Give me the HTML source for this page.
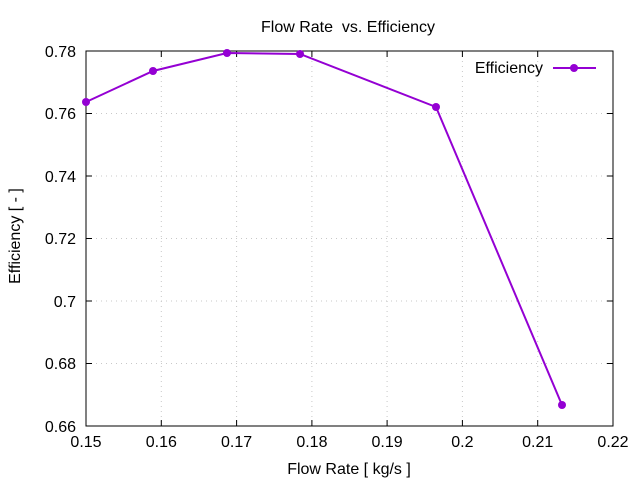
<!DOCTYPE html>
<html><head><meta charset="utf-8"><style>body{margin:0;background:#fff}svg{display:block}</style></head>
<body>
<svg width="640" height="480" xmlns="http://www.w3.org/2000/svg" font-family="Liberation Sans, sans-serif" font-size="16">
<rect width="640" height="480" fill="#fff"/>
<g stroke="#c8c8c8" stroke-width="1" stroke-dasharray="1,4">
<line x1="161.3" y1="51" x2="161.3" y2="426"/><line x1="236.6" y1="51" x2="236.6" y2="426"/><line x1="311.9" y1="51" x2="311.9" y2="426"/><line x1="387.1" y1="51" x2="387.1" y2="426"/><line x1="462.4" y1="51" x2="462.4" y2="426"/><line x1="537.7" y1="51" x2="537.7" y2="426"/>
<line x1="86" y1="113.5" x2="613" y2="113.5"/><line x1="86" y1="176" x2="613" y2="176"/><line x1="86" y1="238.5" x2="613" y2="238.5"/><line x1="86" y1="301" x2="613" y2="301"/><line x1="86" y1="363.5" x2="613" y2="363.5"/>
</g>
<g stroke="#000" stroke-width="1">
<rect x="86" y="51" width="527" height="375" fill="none"/>
<path d="M86 113.5h6M86 176h6M86 238.5h6M86 301h6M86 363.5h6M613 113.5h-6M613 176h-6M613 238.5h-6M613 301h-6M613 363.5h-6M161.3 426v-6M236.6 426v-6M311.9 426v-6M387.1 426v-6M462.4 426v-6M537.7 426v-6M161.3 51v6M236.6 51v6M311.9 51v6M387.1 51v6M462.4 51v6M537.7 51v6"/>
</g>
<g text-anchor="end">
<text x="76" y="57">0.78</text><text x="76" y="119">0.76</text><text x="76" y="182">0.74</text><text x="76" y="244">0.72</text><text x="76" y="307">0.7</text><text x="76" y="369">0.68</text><text x="76" y="432">0.66</text>
</g>
<g text-anchor="middle">
<text x="86" y="447">0.15</text><text x="161.3" y="447">0.16</text><text x="236.6" y="447">0.17</text><text x="311.9" y="447">0.18</text><text x="387.1" y="447">0.19</text><text x="462.4" y="447">0.2</text><text x="537.7" y="447">0.21</text><text x="613" y="447">0.22</text>
</g>
<g text-anchor="middle">
<text x="348" y="32" xml:space="preserve" style="white-space:pre">Flow Rate  vs. Efficiency</text>
<text x="349" y="474">Flow Rate [ kg/s ]</text>
<text transform="translate(20,236) rotate(-90)">Efficiency [ - ]</text>
</g>
<text x="543" y="73" text-anchor="end">Efficiency</text>
<g stroke="#9400d3" stroke-width="2" fill="none">
<line x1="553" y1="68" x2="596" y2="68"/>
<polyline points="86,102 153,71 227,53 300,54 436,107 562,405"/>
</g>
<g fill="#9400d3">
<circle cx="574" cy="68" r="4"/>
<circle cx="86" cy="102" r="4"/><circle cx="153" cy="71" r="4"/><circle cx="227" cy="53" r="4"/><circle cx="300" cy="54" r="4"/><circle cx="436" cy="107" r="4"/><circle cx="562" cy="405" r="4"/>
</g>
</svg>
</body></html>
